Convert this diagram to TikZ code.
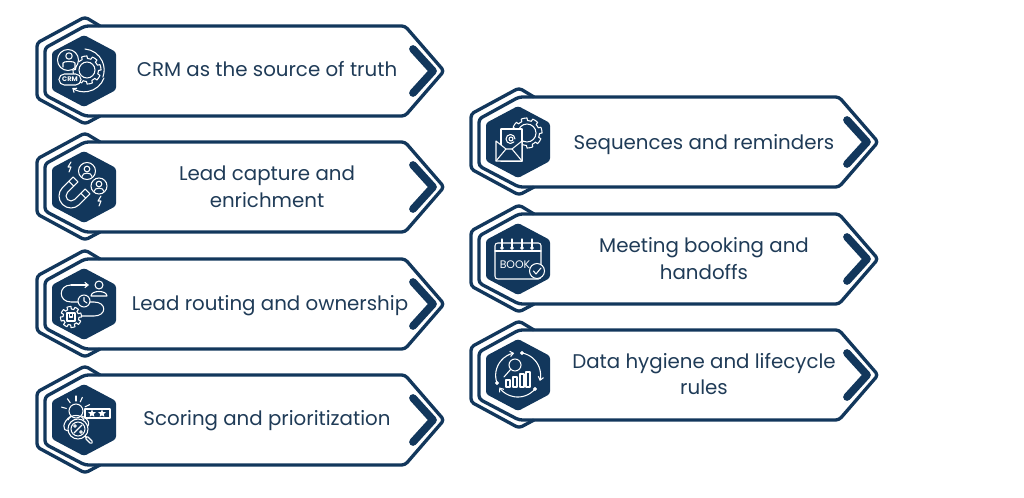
\documentclass[tikz,border=0pt]{standalone}
\usepackage{fontspec}
\setmainfont{Poppins}
\usetikzlibrary{shapes.geometric, arrows.meta}
\definecolor{navy}{HTML}{12375C}
\definecolor{inktext}{HTML}{1F3B57}
\tikzset{
  cardline/.style={draw=navy, line width=2.5pt, rounded corners=2.5pt, line join=round},
  hexfill/.style={fill=navy, rounded corners=2pt},
  chevron/.style={draw=navy, line width=5.8pt, line cap=round, line join=round},
  cardtext/.style={text=inktext, align=center, font=\fontsize{14.85pt}{20.2pt}\selectfont, inner sep=0pt},
  icon/.style={draw=white, line width=0.8pt, line join=round, line cap=round},
  icontip/.style={icon, -{Straight Barb[length=2.5pt,width=4pt]}},
  icontext/.style={text=white, inner sep=0pt}
}
\newcommand{\gearshape}[4]{\draw[icon, #4] plot[domain=0:360, samples=145, variable=\t] ({#1+(#3-2.6*(sin(8*\t)<0))*cos(\t)}, {#2+(#3-2.6*(sin(8*\t)<0))*sin(\t)}) -- cycle;}
\newcommand{\boltshape}[2]{\draw[icon, shift={(#1,#2)}] (1,5) -- (-2,0) -- (1,0) -- (-1,-5);}
\newcommand{\userbadge}[3]{
  \draw[icon] (#1,#2) circle [radius=#3];
  \draw[icon] (#1,#2+2) circle [radius=2.8];
  \draw[icon] (#1-5,#2-5.5) .. controls (#1-5,#2-1) and (#1+5,#2-1) .. (#1+5,#2-5.5);
}
\newcommand{\iconcrm}{
  \gearshape{3}{1}{14}{}
  \draw[icon] (3,1) circle [radius=8];
  \draw[icon, fill=navy] (-16,11) circle [radius=10.5];
  \draw[icon] (-15,15) circle [radius=3.2];
  \draw[icon] (-21,4) -- (-21,8) .. controls (-21,10) and (-9,10) .. (-9,8) -- (-9,4);
  \draw[icon, fill=navy, rounded corners=4pt] (-25,-14) rectangle (-3,-3);
  \node[icontext, font=\bfseries\fontsize{5pt}{5pt}\selectfont] (crmlabel) at (-14,-8.5) {CRM};
  \draw[icon] (1,22) arc [start angle=85, end angle=-20, radius=21];
  \draw[icontip] (20,-7) arc [start angle=-20, end angle=-125, radius=21];
}
\newcommand{\iconmagnet}{
  \userbadge{3}{16}{8.5}
  \userbadge{15}{1}{8}
  \begin{scope}[shift={(-13,-9)}, rotate=45]
    \draw[icon] (15,12) -- (0,12) arc [start angle=90, end angle=270, radius=12] -- (15,-12) -- (15,-5) -- (0,-5) arc [start angle=270, end angle=90, radius=5] -- (15,5) -- cycle;
    \draw[icon] (9,12) -- (9,5);
    \draw[icon] (9,-12) -- (9,-5);
  \end{scope}
  \boltshape{-14}{20}
  \boltshape{16}{-14}
}
\newcommand{\iconroute}{
  \draw[icon] (15,19) circle [radius=4];
  \draw[icon] (7,8) .. controls (7,14) and (23,14) .. (23,8) -- cycle;
  \draw[icontip] (-13,19) -- (5,19);
  \draw[icon] (-13,19) .. controls (-26,19) and (-26,2) .. (-13,2) -- (-6,2);
  \draw[icon] (6,2) -- (10,2) .. controls (23,2) and (23,-12) .. (10,-12) -- (-3,-12);
  \draw[icon] (0,3) circle [radius=6];
  \draw[icon] (0,6.5) -- (0,3) -- (3,1);
  \gearshape{-13}{-13}{10.5}{fill=navy}
  \draw[icon] (-17,-17) rectangle (-9,-9);
  \draw[icon] (-14.5,-9) -- (-14.5,-13) -- (-11.5,-13) -- (-11.5,-9);
}
\newcommand{\iconscore}{
  \draw[icon] (-16,0) .. controls (-14,6) and (-2,6) .. (0,0);
  \draw[icon] (-8,9) circle [radius=7];
  \foreach \a in {25,65,90,125,165} {\draw[icon] (-8,9) ++(\a:10) -- ++(\a:5);}
  \draw[icon] (1,2) rectangle (26,11);
  \node[star, star points=5, star point ratio=2.2, fill=white, minimum size=6pt, inner sep=0pt] (starone) at (8,6.5) {};
  \node[star, star points=5, star point ratio=2.2, fill=white, minimum size=6pt, inner sep=0pt] (startwo) at (18,6.5) {};
  \draw[icon] (-13,4) .. controls (-22,-2) and (-22,-11) .. (-16,-11);
  \draw[icon] (-2,4) .. controls (6,0) and (5,-4) .. (4,-6);
  \draw[icon, fill=navy] (-6,-9) circle [radius=10];
  \draw[icon] (-6,-9) circle [radius=7];
  \draw[icon] (-10,-13) -- (-2,-5);
  \draw[icon] (-9,-6) circle [radius=1.3];
  \draw[icon] (-3,-12) circle [radius=1.3];
  \draw[icon] (1,-16) -- (3,-18);
  \draw[icon, rounded corners=1pt] (3,-16) -- (9,-22) -- (7,-24) -- (1,-18) -- cycle;
}
\newcommand{\iconmail}{
  \gearshape{9}{9}{15}{}
  \draw[icon] (9,9) circle [radius=9];
  \draw[icon, fill=navy] (-17,13) -- (-17,-19) -- (4,-19) -- (4,13) -- (-17,13);
  \draw[icon, fill=navy] (-22,1) -- (-22,-19) -- (4,-19) -- (4,1) -- (-6,-7) -- (-12,-7) -- cycle;
  \draw[icon] (-22,-19) -- (-12,-7);
  \draw[icon] (4,-19) -- (-6,-7);
  \draw[icon] (-7,3) circle [radius=2];
  \draw[icon] (-3,3) arc [start angle=0, end angle=320, radius=4.5];
}
\newcommand{\iconbook}{
  \draw[icon, rounded corners=2pt] (-23,16) rectangle (23,-20);
  \draw[icon] (-23,8) -- (23,8);
  \foreach \px in {-16,-6,4,14} {
    \draw[icon] (\px,20) -- (\px,12);
    \draw[icon, fill=white] (\px,11) circle [radius=1.3];
  }
  \node[icontext, font=\fontsize{8.2pt}{8.2pt}\selectfont] (booklabel) at (-3,-6) {BOOK};
  \draw[icon, fill=navy] (19,-12) circle [radius=7.5];
  \draw[icon] (15.5,-12) -- (18,-15) -- (23,-9);
}
\newcommand{\iconcycle}{
  \draw[icon] (-3,10) circle [radius=6];
  \draw[icon] (-7,6) -- (-14,-2);
  \foreach \px/\py in {-10/-5,-3/-2,4/1,10/3} {\draw[icon] (\px-2,-12) rectangle (\px+2,\py);}
  \draw[icontip] (-21,-8) arc [start angle=200, end angle=100, radius=22.5];
  \draw[icon, fill=white] (-21,-8) circle [radius=1.4];
  \draw[icontip] (4,22) arc [start angle=80, end angle=-15, radius=22.5];
  \draw[icon, fill=white] (4,22) circle [radius=1.4];
  \draw[icontip] (17,-14) arc [start angle=-40, end angle=-145, radius=22.5];
  \draw[icon, fill=white] (17,-14) circle [radius=1.4];
}
\begin{document}
\begin{tikzpicture}[x=0.75pt, y=0.75pt]
  \useasboundingbox (0,0) rectangle (1024,497);
  % cards
  \foreach \cname/\cx/\cy/\tx/\ty/\ctext/\cicon in {
      crm/84/426/267/428/{CRM as the source of truth}/\iconcrm,
      capture/84/310/267/310/{Lead capture and\\enrichment}/\iconmagnet,
      routing/84/193/270/191/{Lead routing and ownership}/\iconroute,
      scoring/84/77/267/76/{Scoring and prioritization}/\iconscore,
      sequences/518/355/704/352/{Sequences and reminders}/\iconmail,
      booking/518/238/704/238/{Meeting booking and\\handoffs}/\iconbook,
      hygiene/518/122/704/123/{Data hygiene and lifecycle\\rules}/\iconcycle} {
    \begin{scope}[shift={(\cx,\cy)}]
      \draw[cardline] (16,45) -- (1,54) -- (-47,28) -- (-47,-27) -- (1,-53) -- (16,-45);
      \draw[cardline] (321,45) -- (1,45) -- (-39,23) -- (-39,-24) -- (1,-45) -- (321,-45) -- (360,0) -- cycle;
      \fill[hexfill] (0,36) -- (32,19) -- (32,-19) -- (0,-36) -- (-32,-19) -- (-32,19) -- cycle;
      \draw[chevron] (329,22) -- (349,0) -- (329,-22);
      \cicon
    \end{scope}
    \node[cardtext] (\cname) at (\tx,\ty) {\ctext};
  }
\end{tikzpicture}
\end{document}
